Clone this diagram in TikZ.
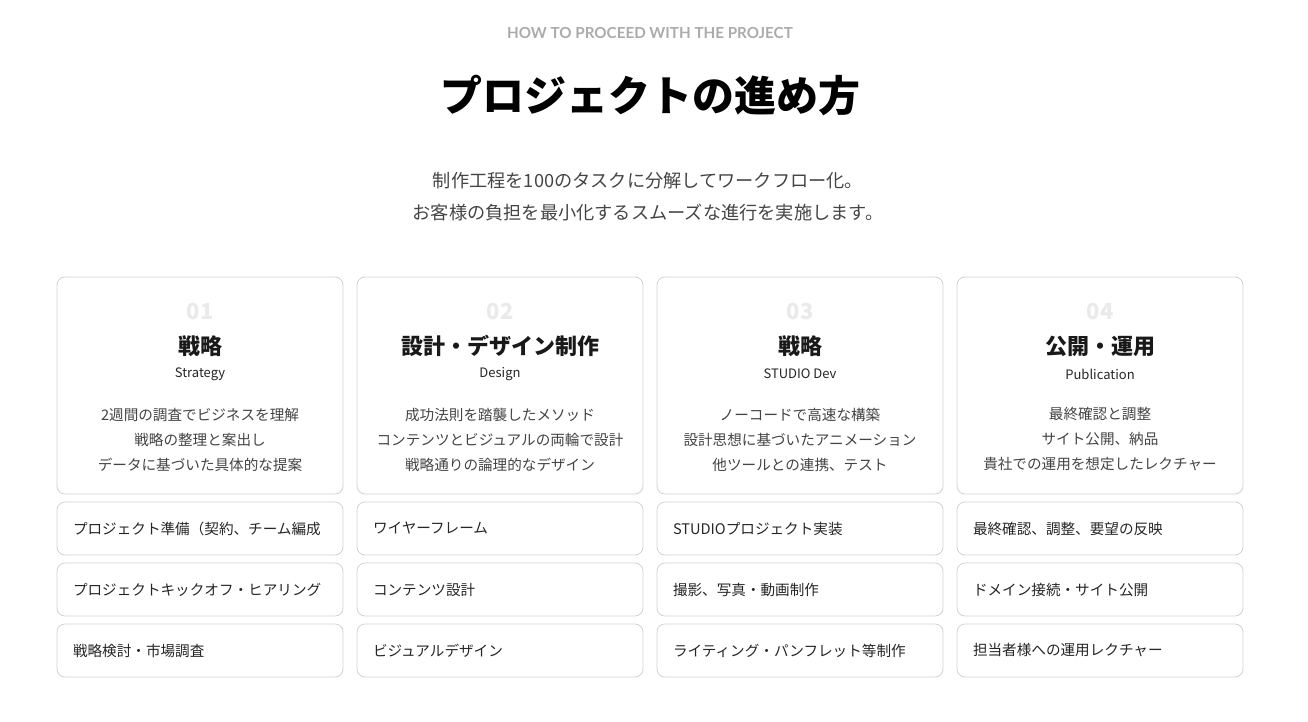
\documentclass[tikz,border=0pt]{standalone}
\usepackage{fontspec}
\setmainfont{Noto Sans CJK JP}
\newfontfamily\latofont{Lato}

\definecolor{framegray}{HTML}{D2D2D2}
\definecolor{numgray}{HTML}{EAEAEA}
\definecolor{textgray}{HTML}{444444}

\begin{document}
\begin{tikzpicture}[x=1pt, y=-1pt,
  card/.style={draw=framegray, rounded corners=8pt, fill=white, minimum width=286pt, minimum height=217pt, line width=0.8pt},
  stepbox/.style={draw=framegray, rounded corners=8pt, fill=white, minimum height=53pt, text width=254pt, inner xsep=16pt, align=left, line width=0.8pt, font=\fontsize{14.6}{17}\selectfont, text=black!85},
  num/.style={text=numgray, font=\bfseries\fontsize{22}{24}\selectfont},
  head/.style={text=black!90, font=\bfseries\fontsize{22}{26}\selectfont},
  sub/.style={text=black!85, font=\fontsize{13}{15}\selectfont},
  desc/.style={text=textgray, align=center, font=\fontsize{14.6}{25}\selectfont}]

\useasboundingbox (0,0) rectangle (1308,722);

\node[text=black!33, font=\latofont\bfseries\fontsize{15.2}{17}\selectfont] (eyebrow) at (650,33) {HOW TO PROCEED WITH THE PROJECT};
\node[font=\bfseries\fontsize{42}{46}\selectfont] (title) at (650,95) {プロジェクトの進め方};
\node[text=textgray, align=center, font=\fontsize{18.2}{32}\selectfont] (lead) at (648,197) {制作工程を100のタスクに分解してワークフロー化。\\お客様の負担を最小化するスムーズな進行を実施します。};

% 01
\node[card] (card1) at (200,385.5) {};
\node[num] (num1) at (200,312) {01};
\node[head] (head1) at (200,346) {戦略};
\node[sub] (sub1) at (200,374) {Strategy};
\node[desc] (desc1) at (200,439.5) {2週間の調査でビジネスを理解\\戦略の整理と案出し\\データに基づいた具体的な提案};
\node[stepbox] (s11) at (200,528.5) {プロジェクト準備（契約、チーム編成};
\node[stepbox] (s12) at (200,589.5) {プロジェクトキックオフ・ヒアリング};
\node[stepbox] (s13) at (200,650.5) {戦略検討・市場調査};

% 02
\node[card] (card2) at (500,385.5) {};
\node[num] (num2) at (500,312) {02};
\node[head] (head2) at (500,346) {設計・デザイン制作};
\node[sub] (sub2) at (500,374) {Design};
\node[desc] (desc2) at (500,439.5) {成功法則を踏襲したメソッド\\コンテンツとビジュアルの両輪で設計\\戦略通りの論理的なデザイン};
\node[stepbox] (s21) at (500,528.5) {ワイヤーフレーム};
\node[stepbox] (s22) at (500,589.5) {コンテンツ設計};
\node[stepbox] (s23) at (500,650.5) {ビジュアルデザイン};

% 03
\node[card] (card3) at (800,385.5) {};
\node[num] (num3) at (800,312) {03};
\node[head] (head3) at (800,346) {戦略};
\node[sub] (sub3) at (800,374) {STUDIO Dev};
\node[desc] (desc3) at (800,439.5) {ノーコードで高速な構築\\設計思想に基づいたアニメーション\\他ツールとの連携、テスト};
\node[stepbox] (s31) at (800,528.5) {STUDIOプロジェクト実装};
\node[stepbox] (s32) at (800,589.5) {撮影、写真・動画制作};
\node[stepbox] (s33) at (800,650.5) {ライティング・パンフレット等制作};

% 04
\node[card] (card4) at (1100,385.5) {};
\node[num] (num4) at (1100,312) {04};
\node[head] (head4) at (1100,346) {公開・運用};
\node[sub] (sub4) at (1100,374) {Publication};
\node[desc] (desc4) at (1100,439.5) {最終確認と調整\\サイト公開、納品\\貴社での運用を想定したレクチャー};
\node[stepbox] (s41) at (1100,528.5) {最終確認、調整、要望の反映};
\node[stepbox] (s42) at (1100,589.5) {ドメイン接続・サイト公開};
\node[stepbox] (s43) at (1100,650.5) {担当者様への運用レクチャー};

\end{tikzpicture}
\end{document}
